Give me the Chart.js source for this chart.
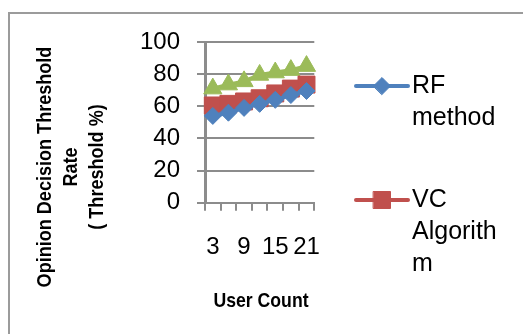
<!DOCTYPE html>
<html>
<head>
<meta charset="utf-8">
<script src="https://cdn.jsdelivr.net/npm/chart.js@4.4.1/dist/chart.umd.min.js"></script>
<style>
  html, body { margin: 0; padding: 0; background: #fff; overflow: hidden; width: 523px; height: 334px; }
  #wrap { position: relative; width: 523px; height: 334px; overflow: hidden; }
  #frame { position: absolute; left: 8px; top: 12px; width: 620px; height: 420px; border: 2px solid #9b9b9b; box-sizing: border-box; }
  canvas { position: absolute; left: 0; top: 0; }
</style>
</head>
<body>
<div id="wrap">
  <div id="frame"></div>
  <canvas id="chart" width="523" height="334"></canvas>
</div>
<script>
// Categories (user count) and the three threshold-rate series (%)
const userCounts = ['3', '6', '9', '12', '15', '18', '21'];
const rfMethod = [54, 56, 59, 61.5, 64, 67, 69.5];
const vcAlgorithm = [60.5, 61.5, 63, 65, 68, 71, 73.5];
const proposedMethod = [71, 73.5, 75.5, 79.5, 81, 82.5, 85];

// Axis ticks and titles
const yTickValues = [0, 20, 40, 60, 80, 100];
const xTitle = 'User Count';
const yTitleLines = ['Opinion Decision Threshold', 'Rate', '( Threshold %)'];

// Legend entries, wrapped the way the side legend shows them
const legendLines = [
  ['RF', 'method'],
  ['VC', 'Algorith', 'm'],
  ['Proposed', 'method']
];

const FONT = "'Liberation Sans', Arial, sans-serif";
const GRID = '#8c8c8c';

function drawMarker(ctx, style, radius, x, y) {
  if (Chart.helpers && Chart.helpers.drawPoint) {
    Chart.helpers.drawPoint(ctx, { pointStyle: style, radius: radius, borderWidth: 1, rotation: 0 }, x, y);
    return;
  }
  ctx.beginPath();
  if (style === 'rect') {
    const s = Math.SQRT1_2 * radius;
    ctx.rect(x - s, y - s, 2 * s, 2 * s);
  } else if (style === 'rectRot') {
    ctx.moveTo(x, y - radius); ctx.lineTo(x + radius, y);
    ctx.lineTo(x, y + radius); ctx.lineTo(x - radius, y); ctx.closePath();
  } else {
    ctx.moveTo(x, y - radius);
    ctx.lineTo(x + radius * 0.866, y + radius / 2);
    ctx.lineTo(x - radius * 0.866, y + radius / 2); ctx.closePath();
  }
  ctx.fill(); ctx.stroke();
}

// Side legend: line + marker sample with wrapped text to its right
const sideLegend = {
  id: 'sideLegend',
  afterDraw(chart) {
    const ctx = chart.ctx;
    let y = 86;
    chart.data.datasets.forEach((ds, i) => {
      if (y > chart.height) return;
      const lines = legendLines[i];
      ctx.save();
      ctx.strokeStyle = ds.borderColor;
      ctx.lineWidth = 4;
      ctx.lineCap = 'round';
      ctx.beginPath();
      ctx.moveTo(356, y);
      ctx.lineTo(408, y);
      ctx.stroke();
      ctx.fillStyle = ds.pointBackgroundColor;
      ctx.strokeStyle = ds.pointBorderColor;
      ctx.lineWidth = 1;
      drawMarker(ctx, ds.pointStyle, ds.pointRadius, 382, y);
      ctx.fillStyle = '#000';
      ctx.font = '25px ' + FONT;
      ctx.textAlign = 'left';
      ctx.textBaseline = 'middle';
      lines.forEach((t, k) => ctx.fillText(t, 412, y + k * 32));
      ctx.restore();
      y += lines.length * 32 + 50;
    });
  }
};

// Axis titles in a narrow bold face, placed relative to the whole plot block
const axisTitles = {
  id: 'axisTitles',
  afterDraw(chart) {
    const ctx = chart.ctx;
    ctx.save();
    ctx.fillStyle = '#000';
    ctx.font = 'bold 21px ' + FONT;
    ctx.textAlign = 'center';
    ctx.textBaseline = 'middle';

    ctx.save();
    ctx.translate(261, 301);
    ctx.scale(0.84, 1);
    ctx.fillText(xTitle, 0, 0);
    ctx.restore();

    ctx.save();
    ctx.translate(45, 167);
    ctx.rotate(-Math.PI / 2);
    ctx.scale(0.86, 1);
    yTitleLines.forEach((t, k) => ctx.fillText(t, 0, k * 26));
    ctx.restore();

    ctx.restore();
  }
};

new Chart(document.getElementById('chart'), {
  type: 'line',
  data: {
    labels: userCounts,
    datasets: [
      {
        label: 'RF method',
        data: rfMethod,
        borderColor: '#4F81BD',
        backgroundColor: '#4F81BD',
        pointBackgroundColor: '#4F81BD',
        pointBorderColor: '#4F81BD',
        pointStyle: 'rectRot',
        pointRadius: 8.5,
        pointBorderWidth: 1,
        borderWidth: 4,
        tension: 0
      },
      {
        label: 'VC Algorithm',
        data: vcAlgorithm,
        borderColor: '#C0504D',
        backgroundColor: '#C0504D',
        pointBackgroundColor: '#C0504D',
        pointBorderColor: '#C0504D',
        pointStyle: 'rect',
        pointRadius: 12,
        pointBorderWidth: 1,
        borderWidth: 4,
        tension: 0
      },
      {
        label: 'Proposed method',
        data: proposedMethod,
        borderColor: '#9BBB59',
        backgroundColor: '#9BBB59',
        pointBackgroundColor: '#9BBB59',
        pointBorderColor: '#9BBB59',
        pointStyle: 'triangle',
        pointRadius: 10.5,
        pointBorderWidth: 1,
        borderWidth: 4,
        tension: 0
      }
    ]
  },
  options: {
    responsive: false,
    animation: false,
    events: [],
    layout: { padding: { left: 0, top: 42, right: 208.7, bottom: 0 } },
    plugins: {
      legend: { display: false },
      tooltip: { enabled: false },
      title: { display: false }
    },
    scales: {
      x: {
        type: 'category',
        offset: true,
        grid: {
          offset: true,
          drawOnChartArea: false,
          drawTicks: true,
          tickLength: 8,
          color: GRID,
          lineWidth: 2
        },
        border: { display: true, color: GRID, width: 2 },
        ticks: {
          autoSkip: false,
          maxRotation: 0,
          minRotation: 0,
          padding: 22,
          color: '#000',
          font: { family: FONT, size: 24 },
          callback: (v, i) => (i % 2 === 0 ? userCounts[i] : '')
        },
        afterFit: (scale) => { scale.height = 131.3; }
      },
      y: {
        min: 0,
        max: 100,
        afterBuildTicks: (scale) => { scale.ticks = yTickValues.map(v => ({ value: v })); },
        grid: {
          drawTicks: true,
          tickLength: 8,
          color: GRID,
          lineWidth: 2
        },
        border: { display: true, color: GRID, width: 3 },
        ticks: {
          padding: 17,
          color: '#000',
          font: { family: FONT, size: 24 }
        },
        afterFit: (scale) => { scale.width = 205; }
      }
    }
  },
  plugins: [sideLegend, axisTitles]
});
</script>
</body>
</html>
